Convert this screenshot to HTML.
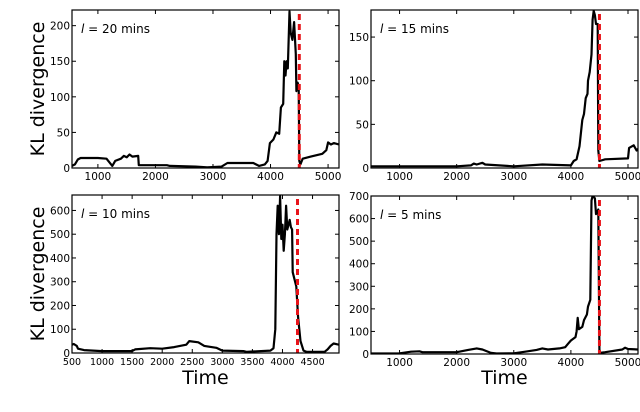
<!DOCTYPE html>
<html><head><meta charset="utf-8"><style>
body{margin:0;background:#fff;font-family:"Liberation Sans","DejaVu Sans",sans-serif}
svg text{font-family:"DejaVu Sans","Liberation Sans",sans-serif}
</style></head><body>
<svg id="c" width="640" height="407" xmlns="http://www.w3.org/2000/svg"></svg>
<script>
const p1X=[550,600,650,700,1000,1150,1250,1300,1400,1450,1500,1550,1600,1700,1710,2200,2250,2700,2900,3150,3250,3700,3800,3900,3950,3990,4050,4100,4150,4180,4220,4240,4260,4280,4300,4330,4350,4380,4410,4440,4450,4470,4490,4500,4520,4560,4700,4900,4970,5000,5050,5100,5190];
const p1Y=[3,5,12,14,14,13,3,10,13,17,15,19,16,17,4,4,3,2,1,2,7,7,3,5,10,35,40,50,48,85,90,150,130,150,140,220,190,180,205,160,108,120,115,10,5,13,16,20,25,36,33,35,33];
const p2X=[500,1000,2000,2250,2300,2350,2450,2500,3000,3500,4000,4050,4100,4150,4200,4230,4260,4290,4300,4330,4360,4380,4400,4420,4440,4470,4480,4500,4600,5000,5020,5100,5150,5175];
const p2Y=[2,2,2,3,5,4,6,4,2,4,3,8,10,25,55,62,80,85,100,110,130,170,180,175,165,165,20,8,10,11,23,26,20,22];
const p3X=[500,530,580,600,700,1000,1500,1550,1800,2000,2200,2400,2450,2600,2700,2900,3000,3350,3400,3800,3850,3880,3900,3920,3940,3960,3980,4000,4020,4040,4060,4080,4100,4120,4140,4160,4170,4200,4230,4260,4300,4350,4400,4700,4750,4800,4850,4940];
const p3Y=[35,38,30,18,12,8,8,15,20,18,25,35,50,45,30,22,10,8,5,10,20,100,500,620,500,660,480,540,430,500,620,520,540,560,530,520,340,310,280,150,50,10,5,5,15,30,40,35];
const p4X=[500,1000,1200,1350,1400,2000,2200,2350,2450,2600,2700,3000,3200,3400,3500,3600,3800,3900,3950,4000,4080,4100,4120,4140,4200,4230,4280,4300,4340,4360,4380,4420,4440,4480,4500,4510,4600,4900,4950,5000,5175];
const p4Y=[2,3,10,12,8,8,18,25,20,5,2,3,10,18,25,20,25,30,45,60,75,100,160,110,120,150,175,210,240,680,700,690,620,640,20,5,8,20,28,22,20];
const xTicksA=[1000,2000,3000,4000,5000];
const xTicksB=[500,1000,1500,2000,2500,3000,3500,4000,4500];
const yTicks1=[0,50,100,150,200], yTicks2=[0,50,100,150], yTicks3=[0,100,200,300,400,500,600], yTicks4=[0,100,200,300,400,500,600,700];
const labels=["20","15","10","5"];
const changes=[4500,4500,4250,4500];

const NS="http://www.w3.org/2000/svg", svg=document.getElementById('c');
function mk(t,a,p){const e=document.createElementNS(NS,t);for(const k in a)e.setAttribute(k,a[k]);(p||svg).appendChild(e);return e;}
const panels=[
 {X:p1X,Y:p1Y,l:72,r:339,t:10,b:168,x0:550,x1:5190,y0:0,y1:222,xt:xTicksA,yt:yTicks1,ylab:true,xlab:false},
 {X:p2X,Y:p2Y,l:371,r:638,t:10,b:168,x0:500,x1:5175,y0:0,y1:181,xt:xTicksA,yt:yTicks2,ylab:false,xlab:false},
 {X:p3X,Y:p3Y,l:72,r:339,t:195,b:353,x0:500,x1:4940,y0:0,y1:665,xt:xTicksB,yt:yTicks3,ylab:true,xlab:true},
 {X:p4X,Y:p4Y,l:371,r:638,t:196,b:354,x0:500,x1:5175,y0:0,y1:700,xt:xTicksA,yt:yTicks4,ylab:false,xlab:true}];
panels.forEach((P,i)=>{
 const g=mk('g',{});
 
 
 const sx=v=>P.l+(v-P.x0)/(P.x1-P.x0)*(P.r-P.l), sy=v=>P.b-(v-P.y0)/(P.y1-P.y0)*(P.b-P.t);
 const cp=mk('clipPath',{id:'cp'+i},g);mk('rect',{x:P.l,y:P.t,width:P.r-P.l,height:P.b-P.t},cp);
 const line=mk('polyline',{points:P.X.map((x,j)=>sx(x).toFixed(1)+','+sy(P.Y[j]).toFixed(1)).join(' '),fill:'none',stroke:'#000','stroke-width':2.2,'stroke-linejoin':'round','clip-path':'url(#cp'+i+')'},g);
 
 
 const cx=sx(changes[i]);
 const red=mk('line',{x1:cx,x2:cx,y1:P.t+4,y2:P.b,stroke:'#e8141a','stroke-width':3,'stroke-dasharray':'6,4'},g);
 
 
 const fr=mk('rect',{x:P.l,y:P.t,width:P.r-P.l,height:P.b-P.t,fill:'none',stroke:'#000','stroke-width':1.2},g);
 
 
 P.xt.forEach(v=>{const x=sx(v);if(x<P.l-1||x>P.r+1)return;
  mk('line',{x1:x,x2:x,y1:P.b,y2:P.b-4,stroke:'#000'},g);mk('line',{x1:x,x2:x,y1:P.t,y2:P.t+4,stroke:'#000'},g);
  const t=mk('text',{x:x,y:P.b+12,'font-size':i==2?9.5:10.5,'text-anchor':'middle',fill:'#000'},g);t.textContent=v;
  
  });
 P.yt.forEach(v=>{const y=sy(v);
  mk('line',{x1:P.l,x2:P.l+4,y1:y,y2:y,stroke:'#000'},g);mk('line',{x1:P.r,x2:P.r-4,y1:y,y2:y,stroke:'#000'},g);
  const t=mk('text',{x:P.l-2,y:y+4,'font-size':10.5,'text-anchor':'end',fill:'#000'},g);t.textContent=v;
  
  });
 const an=mk('text',{x:P.l+9,y:P.t+23,'font-size':12,fill:'#000'},g);
 an.innerHTML='<tspan font-style="italic">l</tspan> =  '+labels[i]+' mins';
 
 
 if(P.ylab){const t=mk('text',{transform:'translate(44,'+((P.t+P.b)/2)+') rotate(-90)','font-size':19,'text-anchor':'middle',fill:'#000'},g);t.textContent='KL divergence';
  
  }
 if(P.xlab){const t=mk('text',{x:(P.l+P.r)/2,y:384,'font-size':19,'text-anchor':'middle',fill:'#000'},g);t.textContent='Time';
  
  }
});
</script>
</body></html>
